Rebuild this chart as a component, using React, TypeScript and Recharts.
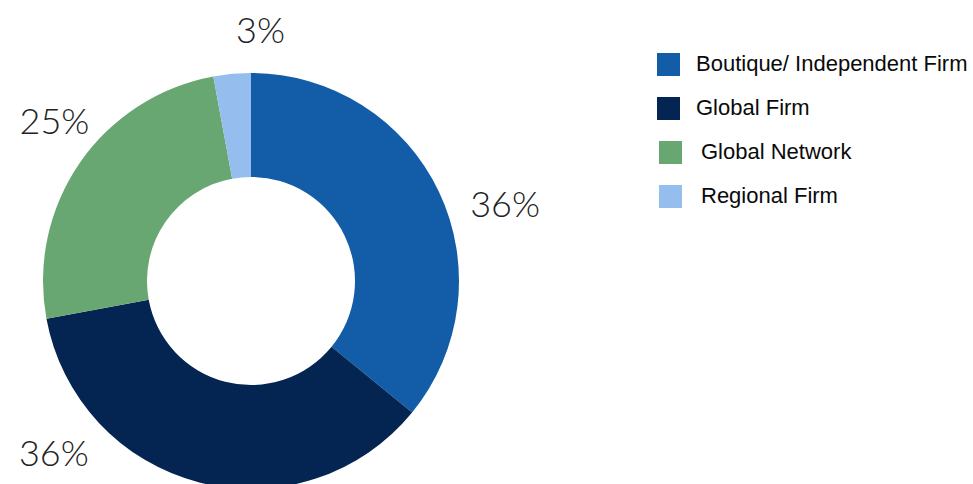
import { PieChart, Pie, Cell, Legend } from 'recharts';

const categories = ['Boutique/ Independent Firm', 'Global Firm', 'Global Network', 'Regional Firm'];
const shares = [35.9, 36.2, 25.0, 2.9];

const COLORS = ['#135da8', '#042552', '#69a772', '#95bdee'];
// hand nudges so the percent labels sit where the original put them
const LABEL_NUDGE: [number, number][] = [
  [21, 33],
  [-133, -79],
  [16, -15],
  [33, 5],
];

const RAD = Math.PI / 180;

const data = categories.map((name, i) => ({ name, value: shares[i] }));

function renderLabel(props: any) {
  const { cx, cy, midAngle, outerRadius, index, value } = props;
  const r = outerRadius + 50;
  const [dx, dy] = LABEL_NUDGE[index] ?? [0, 0];
  const x = cx + r * Math.cos(-midAngle * RAD) + dx;
  const y = cy + r * Math.sin(-midAngle * RAD) + dy;
  return (
    <text
      x={x}
      y={y}
      textAnchor="middle"
      dominantBaseline="central"
      fill="#222"
      fontFamily="Lato, 'Open Sans', sans-serif"
      fontWeight={300}
      fontSize={36}
    >
      {`${Math.round(value)}%`}
    </text>
  );
}

function LegendBox() {
  return (
    <div style={{ fontFamily: "'Liberation Sans', Arial, sans-serif", fontSize: 22, color: '#0a0a0a' }}>
      {categories.map((name, i) => (
        <div
          key={name}
          style={{ display: 'flex', alignItems: 'center', height: 44, paddingLeft: i > 1 ? 2 : 0 }}
        >
          <span
            style={{
              display: 'inline-block',
              width: 23,
              height: 23,
              background: COLORS[i],
              marginRight: i > 1 ? 19 : 16,
            }}
          />
          <span>{name}</span>
        </div>
      ))}
    </div>
  );
}

export default function App() {
  return (
    <div style={{ position: 'absolute', left: 0, top: 0, width: 973, height: 484, background: '#fff' }}>
      <PieChart width={973} height={484} margin={{ top: 0, right: 0, bottom: 0, left: 0 }}>
        <Pie
          data={data}
          dataKey="value"
          nameKey="name"
          cx={251}
          cy={281}
          innerRadius={104}
          outerRadius={208}
          startAngle={90}
          endAngle={-270}
          stroke="none"
          label={renderLabel}
          labelLine={false}
          isAnimationActive={false}
        >
          {data.map((d, i) => (
            <Cell key={d.name} fill={COLORS[i]} />
          ))}
        </Pie>
        <Legend
          content={<LegendBox />}
          wrapperStyle={{ position: 'absolute', left: 657, top: 42, width: 316 }}
        />
      </PieChart>
    </div>
  );
}
